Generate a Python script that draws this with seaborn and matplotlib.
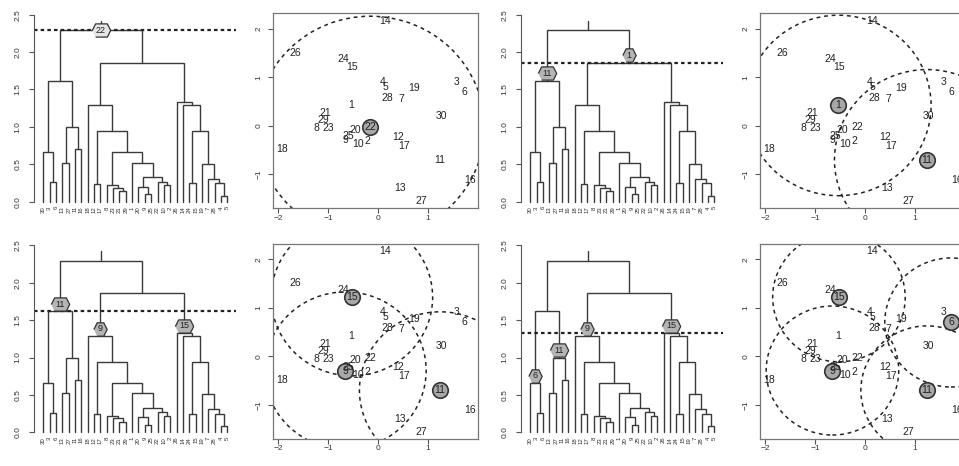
import numpy as np
import pandas as pd
import matplotlib
matplotlib.use("Agg")
import matplotlib.pyplot as plt
from matplotlib.patches import Circle
import seaborn as sns

# point ids and coordinates
ids = list(range(1, 31))
xs = [-0.53, -0.20, 1.58, 0.10, 0.15, 1.73, 0.48, -1.23, -0.65, -0.40,
      1.25, 0.40, 0.44, 0.15, -0.52, 1.84, 0.53, -1.93, 0.73, -0.45,
      -1.05, -0.15, -1.00, -0.69, -0.59, -1.65, 0.87, 0.19, -1.10, 1.28]
ys = [0.42, -0.32, 0.91, 0.91, 0.81, 0.70, 0.56, -0.05, -0.29, -0.38,
      -0.70, -0.22, -1.28, 2.17, 1.22, -1.11, -0.41, -0.48, 0.77, -0.08,
      0.26, -0.03, -0.05, 1.37, -0.21, 1.51, -1.55, 0.58, 0.12, 0.21]

# hclust style merge table: negative = point id, positive = earlier merge row
merge_a = [-4, -9, -21, -23, -20, -10, -8, -12, -24, -28, -3, -22, -7, 5, -1,
           -13, -19, 7, -30, -11, 8, 9, 16, -18, -14, -26, 19, 24, 27]
merge_b = [-5, -25, -29, 3, 2, -2, 4, -17, -15, 1, -6, 6, 10, 12, 14,
           -27, 13, 15, 11, -16, 18, 17, 20, 21, 22, 25, 23, 26, 28]
heights = [0.08, 0.10, 0.14, 0.19, 0.20, 0.22, 0.22, 0.24, 0.245, 0.245, 0.26, 0.27, 0.31, 0.33, 0.52,
           0.52, 0.51, 0.66, 0.66, 0.70, 0.94, 0.94, 1.00, 1.29, 1.29, 1.33, 1.62, 1.86, 2.29]

# one cut per panel and the medoid of every cluster
cut_heights = [2.29, 1.86, 1.62, 1.33]
medoid_sets = [[22], [11, 1], [11, 9, 15], [6, 11, 9, 15]]

pts = pd.DataFrame({"id": ids, "x": xs, "y": ys})

# ---- tree layout ----
order = []
def walk(k):
    if k < 0:
        order.append(-k)
    else:
        walk(merge_a[k - 1]); walk(merge_b[k - 1])
root = len(heights)
walk(root)
leaf_pos = {pid: i for i, pid in enumerate(order)}

node_x, node_leaves = {}, {}
def xpos(k):
    return leaf_pos[-k] if k < 0 else node_x[k]
def hgt(k):
    return 0.0 if k < 0 else heights[k - 1]
def leaves(k):
    return {-k} if k < 0 else node_leaves[k]
for k in range(1, root + 1):
    a, b = merge_a[k - 1], merge_b[k - 1]
    node_x[k] = (xpos(a) + xpos(b)) / 2
    node_leaves[k] = leaves(a) | leaves(b)

def clusters(k, h):
    if k < 0 or hgt(k) <= h + 1e-6:
        return [k]
    return clusters(merge_a[k - 1], h) + clusters(merge_b[k - 1], h)

sns.set_style("white")
plt.rcParams["font.family"] = ["Liberation Sans", "DejaVu Sans"]

W, H = 959, 466
fig = plt.figure(figsize=(W / 100, H / 100), dpi=100)

def add_px_axes(left, top, right, bottom):
    return fig.add_axes([left / W, 1 - bottom / H, (right - left) / W, (bottom - top) / H])

line_col = "#3a3a3a"
axis_col = "#555555"
hex_big = [(-1, 0), (-0.64, 0.72), (0.64, 0.72), (1, 0), (0.64, -0.72), (-0.64, -0.72)]
hex_small = [(-1, 0), (-0.5, 1), (0.5, 1), (1, 0), (0.5, -1), (-0.5, -1)]

for p in range(4):
    dx = 0 if p % 2 == 0 else 487
    dy = 0 if p < 2 else 230.6
    cut = cut_heights[p]
    meds = medoid_sets[p]

    # ---------- dendrogram ----------
    ax = add_px_axes(33.5 + dx, 7.2 + dy, 236.5 + dx, 207.7 + dy)
    for k in range(1, root + 1):
        a, b = merge_a[k - 1], merge_b[k - 1]
        ax.plot([xpos(a), xpos(a), xpos(b), xpos(b)], [hgt(a), heights[k - 1], heights[k - 1], hgt(b)],
                color=line_col, lw=1.0, solid_joinstyle="miter")
    ax.plot([node_x[root], node_x[root]], [heights[-1], 2.42], color=line_col, lw=1.0)
    ax.axhline(cut, color="#222222", lw=1.6, ls=(0, (1.6, 1.4)))
    for pid in order:
        ax.text(leaf_pos[pid], -0.06, str(pid), rotation=90, ha="center", va="top",
                fontsize=4.3, color="#333333", clip_on=False)
    for c in clusters(root, cut):
        med = [m for m in meds if m in leaves(c)][0]
        cy = hgt(c) + (0 if c == root else 0.095)
        mk = hex_big if med >= 10 else hex_small
        sz = 175 if med >= 10 else 92
        ax.scatter([xpos(c)], [cy], marker=mk, s=sz, facecolor="#b4b4b4" if c != root else "#e6e6e6",
                   edgecolor="#333333", linewidth=0.9, zorder=5)
        ax.text(xpos(c), cy, str(med), ha="center", va="center", fontsize=6.5, color="#222222", zorder=6)
    ax.set_xlim(-1.55, 30.45)
    ax.set_ylim(-0.08, 2.6)
    ax.set_xticks([])
    ax.set_yticks([0, 0.5, 1.0, 1.5, 2.0, 2.5])
    ax.set_yticklabels(["0.0", "0.5", "1.0", "1.5", "2.0", "2.5"])
    for s in ["top", "right", "bottom"]:
        ax.spines[s].set_visible(False)
    ax.spines["left"].set_bounds(0, 2.5)
    ax.spines["left"].set_color(axis_col)
    ax.spines["left"].set_linewidth(0.8)
    ax.tick_params(axis="y", left=True, length=3.5, width=0.8, color=axis_col, pad=5,
                   labelsize=6, labelcolor="#333333", labelrotation=90)
    for lbl in ax.get_yticklabels():
        lbl.set_va("center")
    ax.patch.set_alpha(0)

    # ---------- scatter of labels ----------
    ax2 = add_px_axes(272.7 + dx, 13.3 + dy, 477.5 + dx, 208.3 + dy)
    for _, r in pts.iterrows():
        ax2.text(r["x"], r["y"], str(int(r["id"])), ha="center", va="center",
                 fontsize=7.5, color="#222222", zorder=4)
    sel = pts[pts["id"].isin(meds)]
    sns.scatterplot(data=sel, x="x", y="y", s=125, color="#a8a8a8", edgecolor="#333333",
                    linewidth=1.2, ax=ax2, zorder=3, legend=False)
    for m in meds:
        r = pts[pts["id"] == m].iloc[0]
        ax2.add_patch(Circle((r["x"], r["y"]), cut, fill=False, ec="#222222", lw=1.1,
                             ls=(0, (2.5, 2.5)), zorder=2))
    ax2.set_xlim(-2.11, 2.0)
    ax2.set_ylim(-1.70, 2.32)
    ax2.set_xticks([-2, -1, 0, 1])
    ax2.set_yticks([-1, 0, 1, 2])
    ax2.set_xlabel("")
    ax2.set_ylabel("")
    for s in ax2.spines.values():
        s.set_color("#777777")
        s.set_linewidth(0.9)
    ax2.tick_params(axis="both", bottom=True, left=True, length=3.5, width=0.8, color=axis_col,
                    labelsize=6, labelcolor="#333333")
    ax2.tick_params(axis="x", pad=1)
    ax2.tick_params(axis="y", labelrotation=90, pad=4)
    for lbl in ax2.get_yticklabels():
        lbl.set_va("center")

fig.savefig("out.png", dpi=100, facecolor="white")
